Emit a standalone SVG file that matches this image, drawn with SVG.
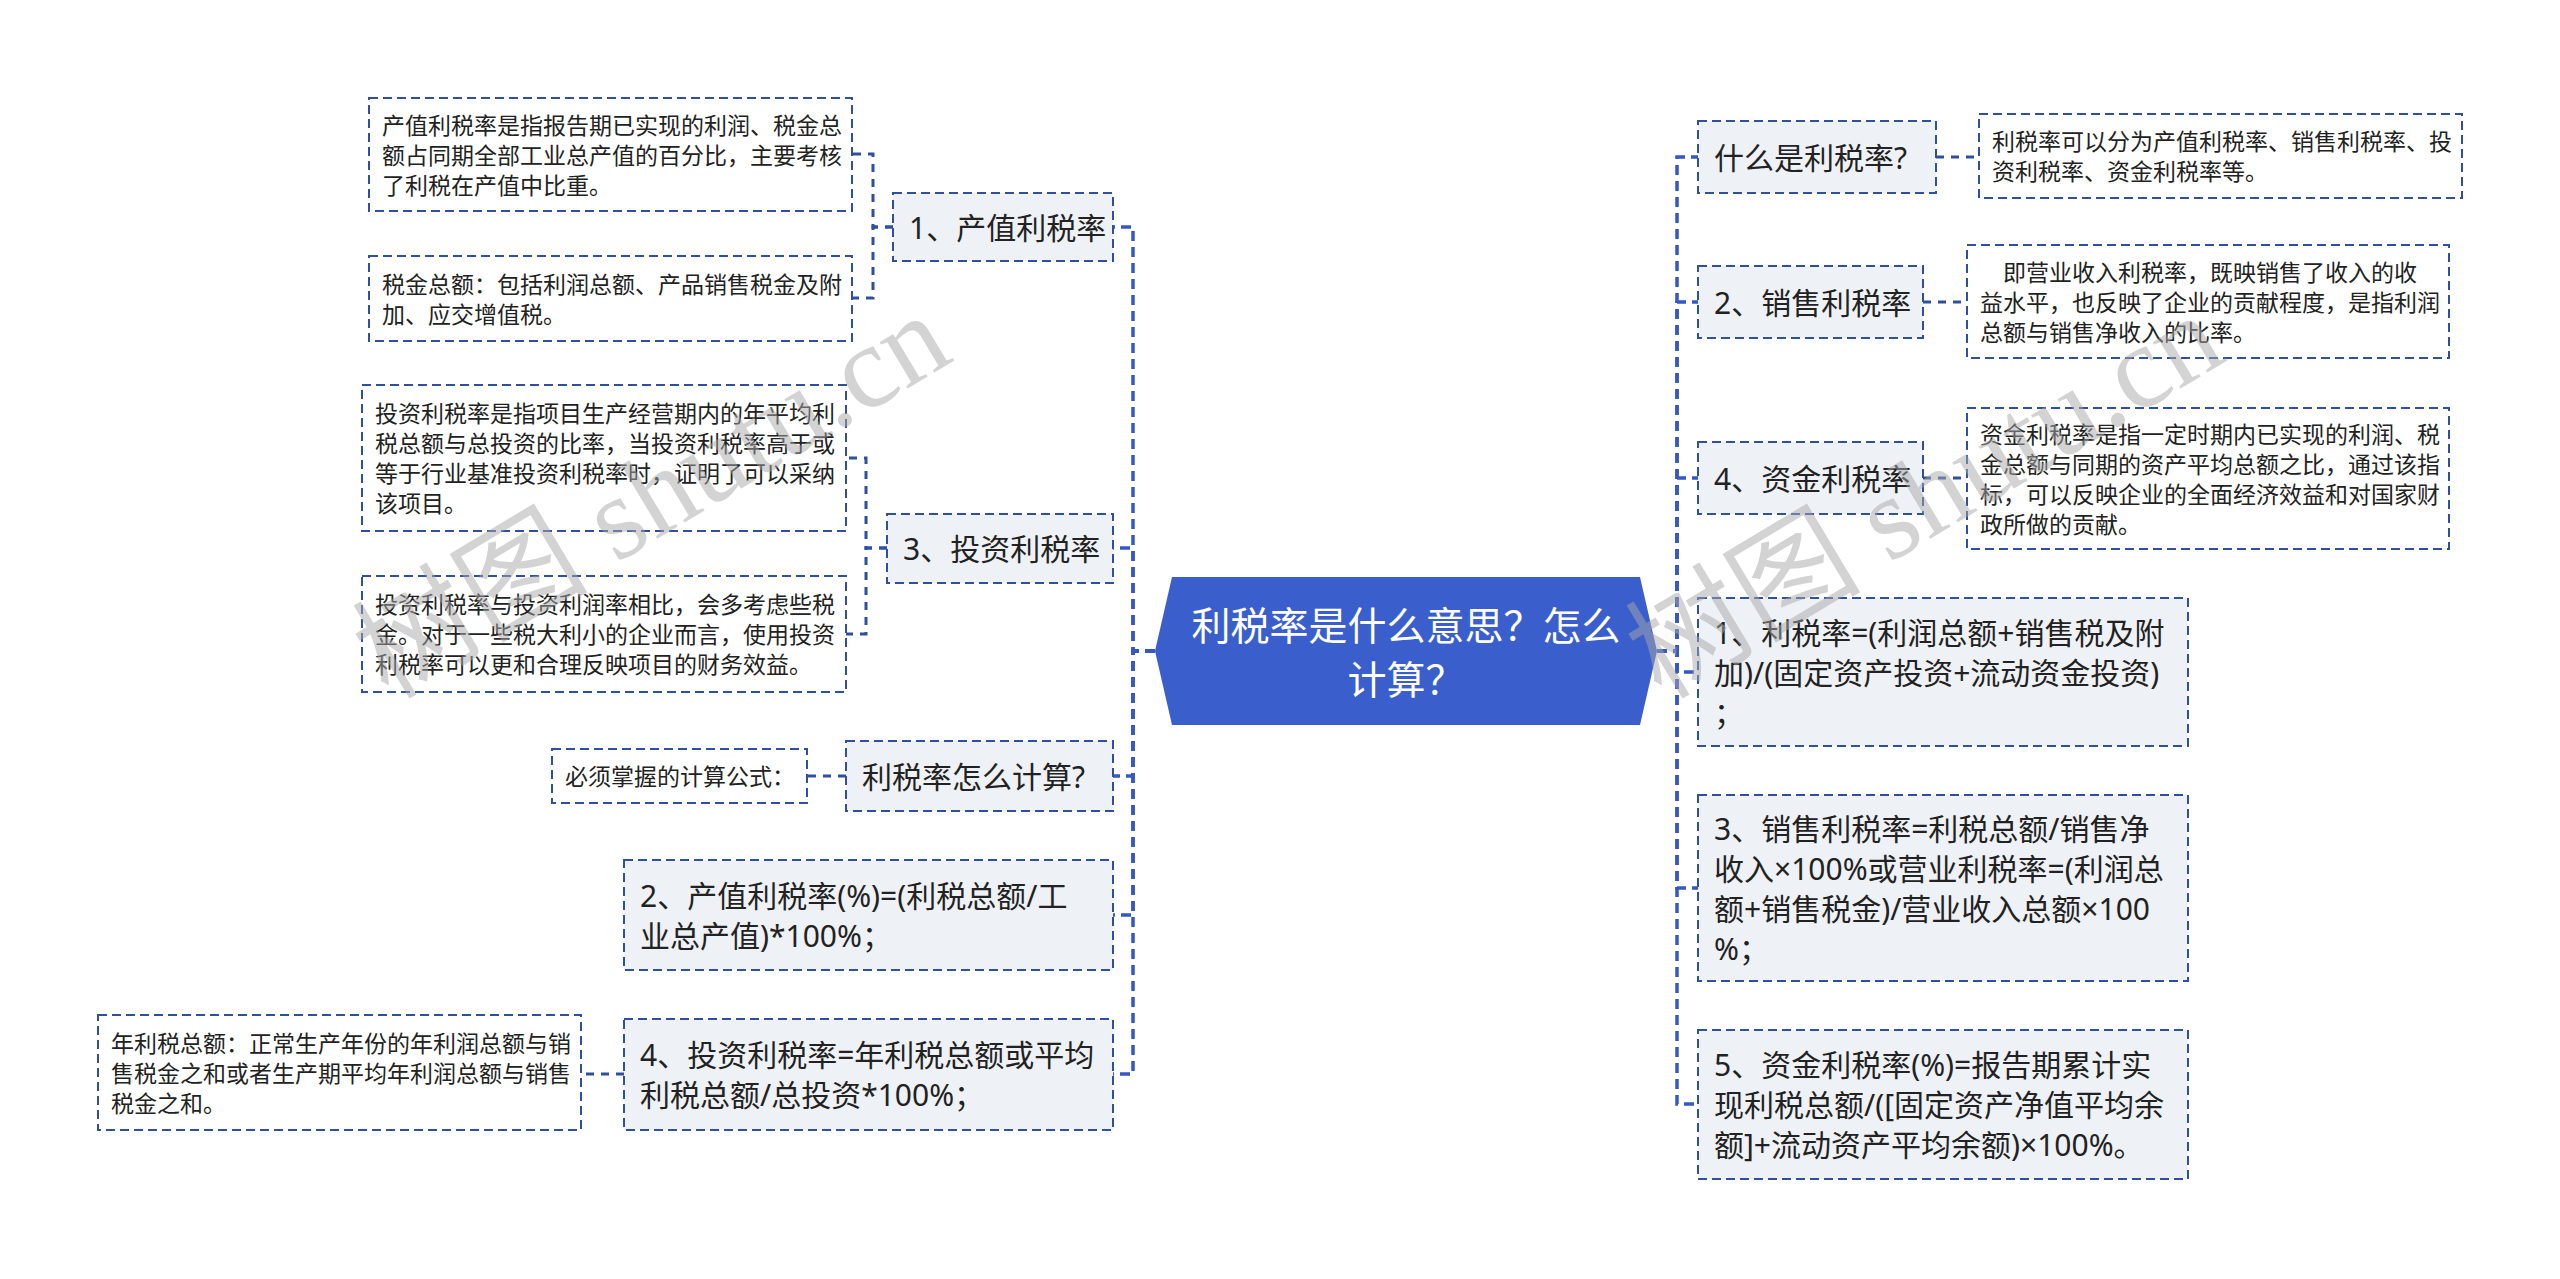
<svg xmlns="http://www.w3.org/2000/svg" width="2560" height="1279" viewBox="0 0 2560 1279">
<style>
text{font-family:"Noto Sans","Noto Sans CJK SC",sans-serif;fill:#222;dominant-baseline:central}
.t1{font-size:30px}
.t2{font-size:23px}
.l1{fill:#eef1f6;stroke:#2f4f9f;stroke-width:2;stroke-dasharray:9 5}
.l2{fill:#ffffff;stroke:#2f4f9f;stroke-width:2;stroke-dasharray:9 5}
.cn{fill:none;stroke:#2f4f9f;stroke-width:3;stroke-dasharray:8 7}
.tr{fill:none;stroke:#3558c6;stroke-width:3.5;stroke-dasharray:10 6}
.wm{font-family:"Liberation Serif","DejaVu Serif","Noto Sans CJK SC",serif;font-size:118px;fill:#a8a8a8;fill-opacity:0.5;dominant-baseline:alphabetic}
</style>
<rect x="0" y="0" width="2560" height="1279" fill="#ffffff"/>

<g id="connectors">
  <path class="tr" d="M1155 651 H1133 V227 H1113"/>
  <path class="tr" d="M1155 651 H1133 V548 H1113"/>
  <path class="tr" d="M1155 651 H1133 V776 H1113"/>
  <path class="tr" d="M1155 651 H1133 V915 H1113"/>
  <path class="tr" d="M1155 651 H1133 V1074 H1113"/>
  <path class="tr" d="M1657 651 H1677 V157 H1698"/>
  <path class="tr" d="M1657 651 H1677 V302 H1698"/>
  <path class="tr" d="M1657 651 H1677 V478 H1698"/>
  <path class="tr" d="M1657 651 H1677 V672 H1698"/>
  <path class="tr" d="M1657 651 H1677 V888 H1698"/>
  <path class="tr" d="M1657 651 H1677 V1104 H1698"/>
  <path class="cn" d="M893 227 H873 V154 H852"/>
  <path class="cn" d="M893 227 H873 V298 H852"/>
  <path class="cn" d="M887 548 H866 V458 H846"/>
  <path class="cn" d="M887 548 H866 V634 H846"/>
  <path class="cn" d="M846 776 H807"/>
  <path class="cn" d="M624 1074 H581"/>
  <path class="cn" d="M1936 157 H1979"/>
  <path class="cn" d="M1923 302 H1967"/>
  <path class="cn" d="M1923 478 H1967"/>
</g>

<g id="center">
  <polygon points="1155,651 1172,577 1640,577 1657,651 1640,725 1172,725" fill="#3a5fcd"/>
  <text x="1406" y="624" font-size="39" text-anchor="middle" style="fill:#ffffff">利税率是什么意思？怎么</text>
  <text x="1406" y="678" font-size="39" text-anchor="middle" style="fill:#ffffff">计算？</text>
</g>

<g id="n-chanzhi">
  <rect class="l1" x="893" y="193" width="220" height="68"/>
  <text class="t1" x="909" y="227">1、产值利税率</text>
</g>
<g id="n-chanzhi-def">
  <rect class="l2" x="369" y="98" width="483" height="113"/>
  <text class="t2" x="382" y="124.5">产值利税率是指报告期已实现的利润、税金总</text>
  <text class="t2" x="382" y="154.5">额占同期全部工业总产值的百分比，主要考核</text>
  <text class="t2" x="382" y="184.5">了利税在产值中比重。</text>
</g>
<g id="n-shuijin">
  <rect class="l2" x="369" y="256" width="483" height="85"/>
  <text class="t2" x="382" y="283.5">税金总额：包括利润总额、产品销售税金及附</text>
  <text class="t2" x="382" y="313.5">加、应交增值税。</text>
</g>
<g id="n-touzi">
  <rect class="l1" x="887" y="514" width="226" height="69"/>
  <text class="t1" x="903" y="548.5">3、投资利税率</text>
</g>
<g id="n-touzi-def">
  <rect class="l2" x="362" y="385" width="484" height="146"/>
  <text class="t2" x="375" y="413">投资利税率是指项目生产经营期内的年平均利</text>
  <text class="t2" x="375" y="443">税总额与总投资的比率，当投资利税率高于或</text>
  <text class="t2" x="375" y="473">等于行业基准投资利税率时，证明了可以采纳</text>
  <text class="t2" x="375" y="503">该项目。</text>
</g>
<g id="n-touzi-cmp">
  <rect class="l2" x="362" y="576" width="484" height="116"/>
  <text class="t2" x="375" y="604">投资利税率与投资利润率相比，会多考虑些税</text>
  <text class="t2" x="375" y="634">金。对于一些税大利小的企业而言，使用投资</text>
  <text class="t2" x="375" y="664">利税率可以更和合理反映项目的财务效益。</text>
</g>
<g id="n-howcalc">
  <rect class="l1" x="846" y="741" width="267" height="70"/>
  <text class="t1" x="862" y="776">利税率怎么计算?</text>
</g>
<g id="n-formula">
  <rect class="l2" x="552" y="749" width="255" height="54"/>
  <text class="t2" x="565" y="776">必须掌握的计算公式：</text>
</g>
<g id="n-f2">
  <rect class="l1" x="624" y="860" width="489" height="110"/>
  <text class="t1" x="640" y="895">2、产值利税率(%)=(利税总额/工</text>
  <text class="t1" x="640" y="935">业总产值)*100%；</text>
</g>
<g id="n-f4">
  <rect class="l1" x="624" y="1019" width="489" height="111"/>
  <text class="t1" x="640" y="1054.5">4、投资利税率=年利税总额或平均</text>
  <text class="t1" x="640" y="1094.5">利税总额/总投资*100%；</text>
</g>
<g id="n-nian">
  <rect class="l2" x="98" y="1015" width="483" height="115"/>
  <text class="t2" x="111" y="1042.5">年利税总额：正常生产年份的年利润总额与销</text>
  <text class="t2" x="111" y="1072.5">售税金之和或者生产期平均年利润总额与销售</text>
  <text class="t2" x="111" y="1102.5">税金之和。</text>
</g>

<g id="n-what">
  <rect class="l1" x="1698" y="121" width="238" height="72"/>
  <text class="t1" x="1714" y="157">什么是利税率?</text>
</g>
<g id="n-what-def">
  <rect class="l2" x="1979" y="114" width="483" height="84"/>
  <text class="t2" x="1992" y="141">利税率可以分为产值利税率、销售利税率、投</text>
  <text class="t2" x="1992" y="171">资利税率、资金利税率等。</text>
</g>
<g id="n-xiaoshou">
  <rect class="l1" x="1698" y="266" width="225" height="72"/>
  <text class="t1" x="1714" y="302">2、销售利税率</text>
</g>
<g id="n-xiaoshou-def">
  <rect class="l2" x="1967" y="245" width="482" height="113"/>
  <text class="t2" x="2003" y="271.5">即营业收入利税率，既映销售了收入的收</text>
  <text class="t2" x="1980" y="301.5">益水平，也反映了企业的贡献程度，是指利润</text>
  <text class="t2" x="1980" y="331.5">总额与销售净收入的比率。</text>
</g>
<g id="n-zijin">
  <rect class="l1" x="1698" y="442" width="225" height="72"/>
  <text class="t1" x="1714" y="478">4、资金利税率</text>
</g>
<g id="n-zijin-def">
  <rect class="l2" x="1967" y="408" width="482" height="141"/>
  <text class="t2" x="1980" y="433.5">资金利税率是指一定时期内已实现的利润、税</text>
  <text class="t2" x="1980" y="463.5">金总额与同期的资产平均总额之比，通过该指</text>
  <text class="t2" x="1980" y="493.5">标，可以反映企业的全面经济效益和对国家财</text>
  <text class="t2" x="1980" y="523.5">政所做的贡献。</text>
</g>
<g id="n-f1">
  <rect class="l1" x="1698" y="598" width="490" height="148"/>
  <text class="t1" x="1714" y="632">1、利税率=(利润总额+销售税及附</text>
  <text class="t1" x="1714" y="672">加)/(固定资产投资+流动资金投资)</text>
  <text class="t1" x="1714" y="712">；</text>
</g>
<g id="n-f3">
  <rect class="l1" x="1698" y="795" width="490" height="186"/>
  <text class="t1" x="1714" y="828">3、销售利税率=利税总额/销售净</text>
  <text class="t1" x="1714" y="868">收入×100%或营业利税率=(利润总</text>
  <text class="t1" x="1714" y="908">额+销售税金)/营业收入总额×100</text>
  <text class="t1" x="1714" y="948">%；</text>
</g>
<g id="n-f5">
  <rect class="l1" x="1698" y="1030" width="490" height="149"/>
  <text class="t1" x="1714" y="1064.5">5、资金利税率(%)=报告期累计实</text>
  <text class="t1" x="1714" y="1104.5">现利税总额/([固定资产净值平均余</text>
  <text class="t1" x="1714" y="1144.5">额]+流动资产平均余额)×100%。</text>
</g>

<g id="watermark">
  <text class="wm" transform="translate(672,530) rotate(-31)" text-anchor="middle">树图 shutu.cn</text>
  <text class="wm" transform="translate(1945,530) rotate(-31)" text-anchor="middle">树图 shutu.cn</text>
</g>
</svg>
